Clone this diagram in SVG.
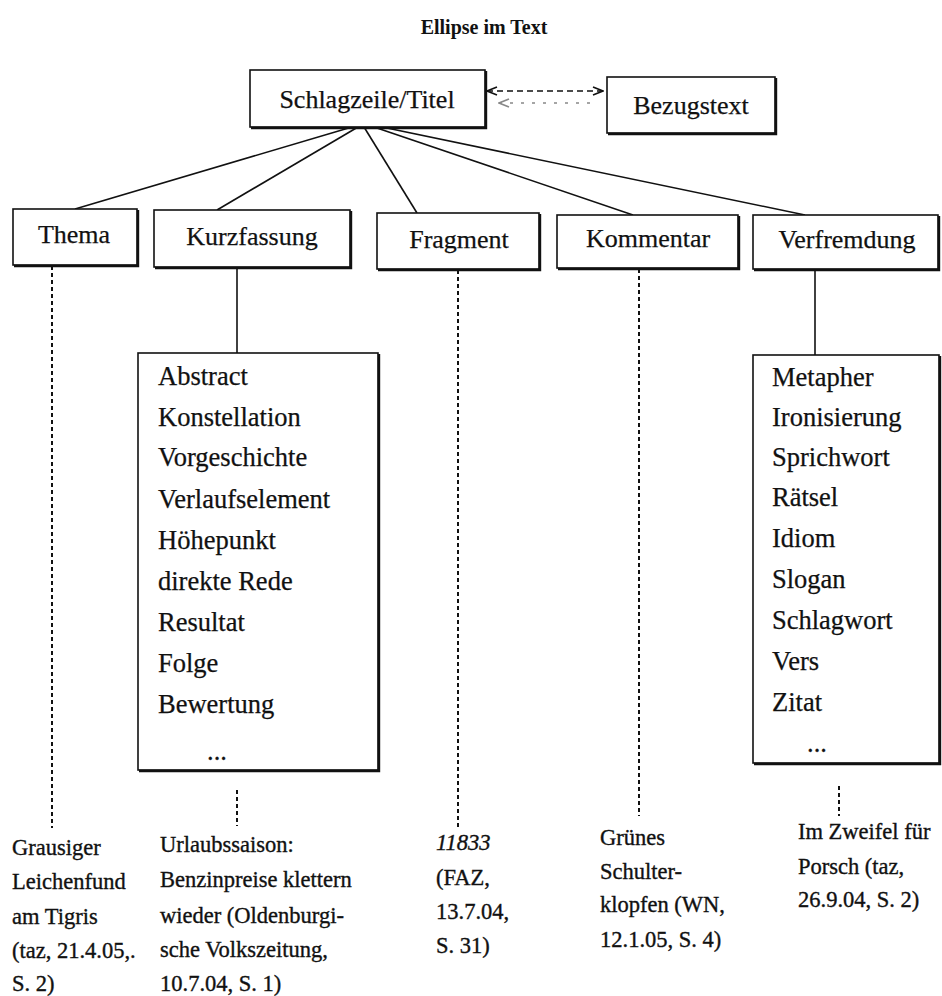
<svg xmlns="http://www.w3.org/2000/svg" width="942" height="996" viewBox="0 0 942 996">
<style>
.box{fill:#fff;stroke:#111;stroke-width:1.6}
.sh{fill:none;stroke:#111;stroke-width:2.4}
.lbl{font-family:"Liberation Serif","Times New Roman",serif;font-size:26px;fill:#111;stroke:#111;stroke-width:0.25;text-anchor:middle}
.item{font-family:"Liberation Serif","Times New Roman",serif;font-size:26.5px;fill:#111;stroke:#111;stroke-width:0.25}
.ref{font-family:"Liberation Serif","Times New Roman",serif;font-size:22.5px;fill:#111;stroke:#111;stroke-width:0.35}
.title{font-family:"Liberation Serif","Times New Roman",serif;font-size:20px;font-weight:bold;fill:#111;text-anchor:middle}
.edge{stroke:#111;stroke-width:1.6;fill:none}
.dash{stroke:#111;stroke-width:2;stroke-dasharray:4 3;fill:none}
</style>
<defs>
<marker id="chev" viewBox="0 0 12 10" refX="11" refY="5" markerWidth="12" markerHeight="10" markerUnits="userSpaceOnUse" orient="auto-start-reverse">
<path d="M1,1 L11,5 L1,9" fill="none" stroke="#111" stroke-width="1.6"/>
</marker>
<marker id="chevg" viewBox="0 0 12 10" refX="11" refY="5" markerWidth="12" markerHeight="10" markerUnits="userSpaceOnUse" orient="auto-start-reverse">
<path d="M1,1 L11,5 L1,9" fill="none" stroke="#888" stroke-width="1.6"/>
</marker>
</defs>
<rect width="942" height="996" fill="#fff"/>
<text class="title" x="484" y="34">Ellipse im Text</text>

<g id="connectors">
<line class="edge" x1="487" y1="91" x2="603" y2="91" stroke-dasharray="6 4" marker-start="url(#chev)" marker-end="url(#chev)"/>
<line x1="499" y1="103" x2="598" y2="103" stroke="#888" stroke-width="1.6" stroke-dasharray="3 8" marker-start="url(#chevg)"/>
<line class="edge" x1="352" y1="127" x2="75" y2="209"/>
<line class="edge" x1="358" y1="127" x2="217" y2="210"/>
<line class="edge" x1="364" y1="127" x2="417" y2="213"/>
<line class="edge" x1="374" y1="127" x2="633" y2="215"/>
<line class="edge" x1="382" y1="127" x2="805" y2="215"/>
<line class="dash" x1="52" y1="266" x2="52" y2="828"/>
<line class="edge" x1="237" y1="268" x2="237" y2="353"/>
<line class="dash" x1="237" y1="790" x2="237" y2="826"/>
<line class="dash" x1="458" y1="270" x2="458" y2="828"/>
<line class="dash" x1="639" y1="269" x2="639" y2="816"/>
<line class="edge" x1="815" y1="270" x2="815" y2="355"/>
<line class="dash" x1="839" y1="786" x2="839" y2="816"/>
</g>

<g id="node-schlagzeile">
<rect class="box" x="250" y="70" width="235" height="57"/>
<path class="sh" d="M251,128 H486 V71"/>
<text class="lbl" x="367" y="108">Schlagzeile/Titel</text>
</g>
<g id="node-bezugstext">
<rect class="box" x="607" y="77" width="168" height="56"/>
<path class="sh" d="M608,134 H776 V78"/>
<text class="lbl" x="691" y="114" font-size="25">Bezugstext</text>
</g>

<g id="node-thema">
<rect class="box" x="13" y="209" width="124" height="56"/>
<path class="sh" d="M14,266 H138 V210"/>
<text class="lbl" x="74" y="243">Thema</text>
</g>
<g id="node-kurzfassung">
<rect class="box" x="154" y="210" width="196" height="57"/>
<path class="sh" d="M155,268 H351 V211"/>
<text class="lbl" x="252" y="245">Kurzfassung</text>
</g>
<g id="node-fragment">
<rect class="box" x="377" y="213" width="162" height="56"/>
<path class="sh" d="M378,270 H540 V214"/>
<text class="lbl" x="459" y="248">Fragment</text>
</g>
<g id="node-kommentar">
<rect class="box" x="557" y="215" width="181" height="53"/>
<path class="sh" d="M558,269 H739 V216"/>
<text class="lbl" x="648" y="247">Kommentar</text>
</g>
<g id="node-verfremdung">
<rect class="box" x="753" y="215" width="185" height="54"/>
<path class="sh" d="M754,270 H939 V216"/>
<text class="lbl" x="847" y="248">Verfremdung</text>
</g>

<g id="node-kurzfassung-list">
<rect class="box" x="138" y="353" width="240" height="417"/>
<path class="sh" d="M139,771 H379 V354"/>
<text class="item" x="158" y="385">Abstract</text>
<text class="item" x="158" y="426">Konstellation</text>
<text class="item" x="158" y="466">Vorgeschichte</text>
<text class="item" x="158" y="508">Verlaufselement</text>
<text class="item" x="158" y="549">Höhepunkt</text>
<text class="item" x="158" y="590">direkte Rede</text>
<text class="item" x="158" y="631">Resultat</text>
<text class="item" x="158" y="672">Folge</text>
<text class="item" x="158" y="713">Bewertung</text>
<text class="item" x="217" y="760" text-anchor="middle">...</text>
</g>

<g id="node-verfremdung-list">
<rect class="box" x="753" y="355" width="186" height="408"/>
<path class="sh" d="M754,764 H940 V356"/>
<text class="item" x="772" y="386">Metapher</text>
<text class="item" x="772" y="426">Ironisierung</text>
<text class="item" x="772" y="466">Sprichwort</text>
<text class="item" x="772" y="506">Rätsel</text>
<text class="item" x="772" y="547">Idiom</text>
<text class="item" x="772" y="588">Slogan</text>
<text class="item" x="772" y="629">Schlagwort</text>
<text class="item" x="772" y="670">Vers</text>
<text class="item" x="772" y="711">Zitat</text>
<text class="item" x="817" y="752" text-anchor="middle">...</text>
</g>

<g id="node-example-thema">
<text class="ref" x="12" y="855">Grausiger</text>
<text class="ref" x="12" y="889">Leichenfund</text>
<text class="ref" x="12" y="924">am Tigris</text>
<text class="ref" x="12" y="958">(taz, 21.4.05,.</text>
<text class="ref" x="12" y="991">S. 2)</text>
</g>
<g id="node-example-kurzfassung">
<text class="ref" x="160" y="852">Urlaubssaison:</text>
<text class="ref" x="160" y="887">Benzinpreise klettern</text>
<text class="ref" x="160" y="923">wieder (Oldenburgi-</text>
<text class="ref" x="160" y="957">sche Volkszeitung,</text>
<text class="ref" x="160" y="991">10.7.04, S. 1)</text>
</g>
<g id="node-example-fragment">
<text class="ref" x="436" y="850" font-style="italic">11833</text>
<text class="ref" x="436" y="885">(FAZ,</text>
<text class="ref" x="436" y="919">13.7.04,</text>
<text class="ref" x="436" y="953">S. 31)</text>
</g>
<g id="node-example-kommentar">
<text class="ref" x="600" y="845">Grünes</text>
<text class="ref" x="600" y="879">Schulter-</text>
<text class="ref" x="600" y="912">klopfen (WN,</text>
<text class="ref" x="600" y="947">12.1.05, S. 4)</text>
</g>
<g id="node-example-verfremdung">
<text class="ref" x="798" y="839">Im Zweifel für</text>
<text class="ref" x="798" y="874">Porsch (taz,</text>
<text class="ref" x="798" y="907">26.9.04, S. 2)</text>
</g>
</svg>
